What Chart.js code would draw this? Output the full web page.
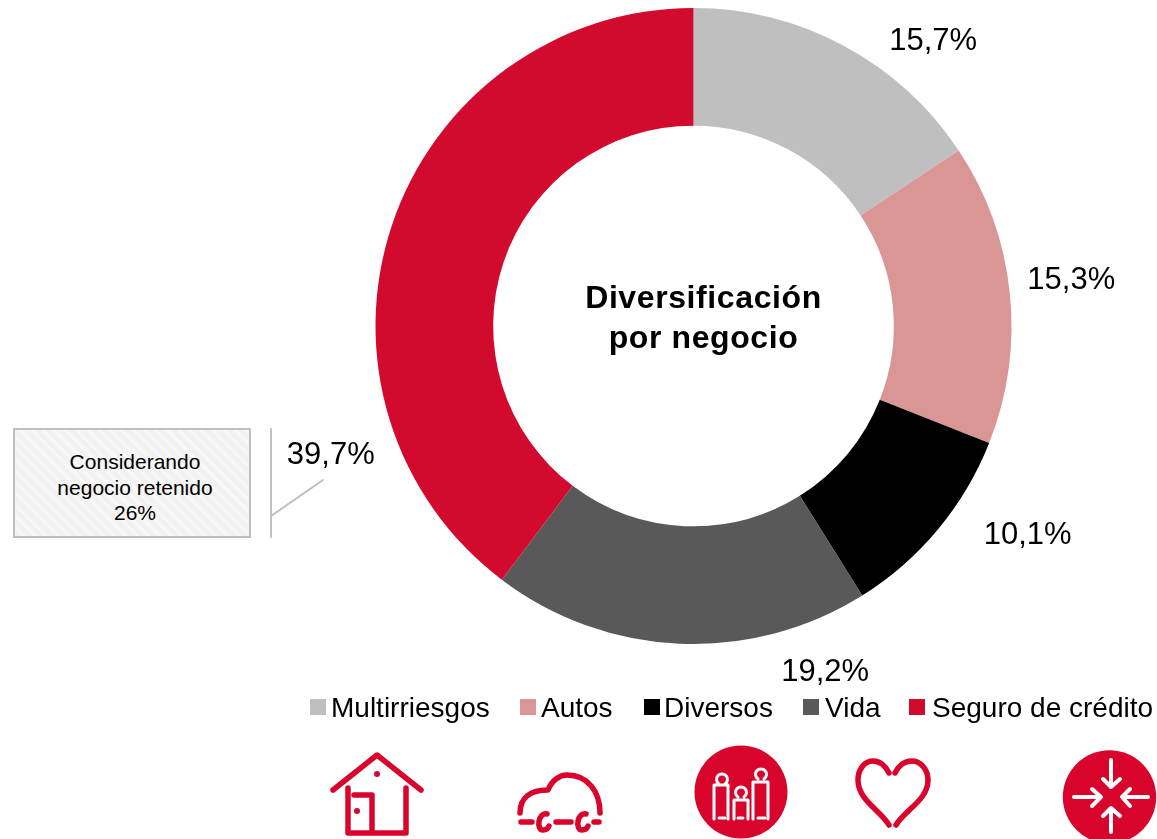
<!DOCTYPE html>
<html><head><meta charset="utf-8">
<script src="https://cdn.jsdelivr.net/npm/chart.js@4"></script>
<style>
html,body{margin:0;padding:0;background:#fff;overflow:hidden}
#wrap{position:relative;width:1157px;height:839px;font-family:"Liberation Sans",Arial,sans-serif;color:#000}
canvas{position:absolute;left:0;top:0}
.legend{position:absolute;font-size:28px;line-height:30px;white-space:nowrap;top:693px}
.sw{position:absolute;width:16px;height:16px;top:699px}
#note{position:absolute;left:13px;top:428px;width:238px;height:110px;box-sizing:border-box;border:2px solid #bfbfbf;
background:repeating-linear-gradient(45deg,#f2f2f2 0,#f2f2f2 5px,#f8f8f8 5px,#f8f8f8 8px);
font-size:21px;line-height:25.5px;text-align:center;padding-top:19px;padding-left:6px}
svg{position:absolute;left:0;top:0}
</style></head>
<body><div id="wrap">
<canvas id="c" width="1157" height="839"></canvas>
<div id="note">Considerando<br>negocio retenido<br>26%</div>
<svg width="1157" height="839" fill="none" stroke="#D9042C" stroke-width="5.5" stroke-linecap="round" stroke-linejoin="round">
<path d="M271 429V537M271 516L323 480" stroke="#bfbfbf" stroke-width="2"/>
<!-- house -->
<path d="M333 790L377 755L421 790"/>
<path d="M348 788V833H406V788M354 795H372V833"/>
<circle cx="377" cy="774" r="3" fill="#D9042C" stroke="none"/><circle cx="357" cy="811" r="3" fill="#D9042C" stroke="none"/>
<!-- car -->
<path d="M520 813C520 798 530 790 548 790C552 780 560 775 567 775C588 775 600 792 600 813"/>
<path d="M521 822H532M556 822H571M594 822H599"/>
<path d="M547 814C538 812 536 830 543 830C546 830 548 829 549 826"/>
<path d="M586 814C577 812 575 830 582 830C585 830 587 829 588 826"/>
<!-- family -->
<circle cx="741" cy="792" r="46.5" fill="#D9042C" stroke="none"/>
<g stroke="#fff" stroke-width="3">
<path d="M714 819V785H728V819M719 784a5.5 5.5 0 1 1 6 0"/>
<path d="M734 819V800H748V819M738 797a5.5 5.5 0 1 1 6 0"/>
<path d="M753 819V782H768V819M758 779a5.5 5.5 0 1 1 6 0"/>
<path d="M719 818H725M738 818H743M758 818H765"/>
</g>
<!-- heart -->
<path d="M889 773C885 765 880 761 873 761C864 761 858 770 858 780C858 800 880 810 889 825"/>
<path d="M895 773C899 765 905 761 912 761C921 761 928 770 928 780C928 800 905 810 896 825"/>
<!-- arrows -->
<circle cx="1109.5" cy="797" r="46.7" fill="#D9042C" stroke="none"/>
<g stroke="#fff" stroke-width="4">
<path d="M1111 760V784M1103 779L1111 787L1120 779"/>
<path d="M1111 832V811M1103 816L1111 808L1120 816"/>
<path d="M1074 797H1098M1092 789L1101 797L1092 806"/>
<path d="M1148 797H1125M1130 789L1122 797L1130 806"/>
</g>
</svg>
</div>
<script>
const categories = ["Multirriesgos","Autos","Diversos","Vida","Seguro de crédito"];
const shares = [15.7,15.3,10.1,19.2,39.7];
const sliceColors = ["#BFBFBF","#D99694","#000000","#595959","#D20A2E"];
const centerLines = ["Diversificación","por negocio"];
const labelText = v => v.toFixed(1).replace(".",",")+"%";
// offsets of each value label from its slice centroid, and the legend layout
const labelNudge = [[117,-56],[120,-19],[135,44],[143,88],[-117,212]];
const legendX = [[310,331],[520,541],[644,664],[803,825],[909,932]];

const frame = {left:375.5,right:1011.5,top:8,bottom:644,width:636,height:636};
const placeChart = {id:"placeChart",afterLayout(chart){chart.chartArea = {...frame};}};
const valueLabels = {id:"valueLabels",afterDatasetsDraw(chart){
  const ctx = chart.ctx, arcs = chart.getDatasetMeta(0).data;
  ctx.save();
  ctx.textAlign="center";ctx.textBaseline="middle";
  ctx.fillStyle="#000";ctx.font='31px "Liberation Sans", Arial, sans-serif';
  arcs.forEach((a,i)=>{
    const p=a.tooltipPosition();
    ctx.fillText(labelText(shares[i]),p.x+labelNudge[i][0],p.y+labelNudge[i][1]);
  });
  ctx.font='bold 32px "Liberation Sans", Arial, sans-serif';
  const c=arcs[0];
  if("letterSpacing" in ctx) ctx.letterSpacing="0.6px";
  ctx.fillText(centerLines[0],c.x+10,c.y-27);
  ctx.fillText(centerLines[1],c.x+10,c.y+13);
  ctx.restore();
}};

new Chart(document.getElementById("c"),{
  type:"doughnut",
  data:{labels:categories,datasets:[{data:shares,backgroundColor:sliceColors,borderWidth:0}]},
  options:{responsive:false,animation:false,cutout:"63%",
    plugins:{legend:{display:false},tooltip:{enabled:false}}},
  plugins:[placeChart,valueLabels]
});

const wrap=document.getElementById("wrap");
categories.forEach((n,i)=>{
  const s=document.createElement("div");s.className="sw";s.style.left=legendX[i][0]+"px";s.style.background=sliceColors[i];wrap.appendChild(s);
  const t=document.createElement("div");t.className="legend";t.style.left=legendX[i][1]+"px";t.textContent=n;wrap.appendChild(t);
});
</script>
</body></html>
